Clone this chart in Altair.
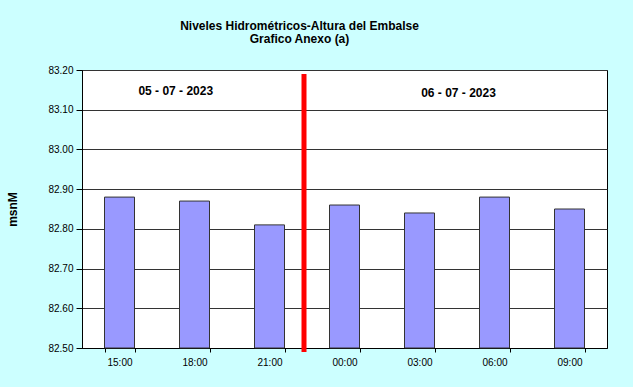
import altair as alt
import pandas as pd

times = ["15:00", "18:00", "21:00", "00:00", "03:00", "06:00", "09:00"]
levels = [82.88, 82.87, 82.81, 82.86, 82.84, 82.88, 82.85]
y_ticks = [82.5, 82.6, 82.7, 82.8, 82.9, 83.0, 83.1, 83.2]

date_labels = ["05 - 07 - 2023", "06 - 07 - 2023"]
date_x = [1.25, 5.02]
date_y = [83.148, 83.142]

divider_x = [2.96]
divider_top = [83.19]
divider_bottom = [82.49]

bars_df = pd.DataFrame({"time": times, "level": levels})
text_df = pd.DataFrame({"label": date_labels, "pos": date_x, "y": date_y})
rule_df = pd.DataFrame({"pos": divider_x, "top": divider_top, "bottom": divider_bottom})

FONT = "Liberation Sans"

yscale = alt.Scale(domain=[82.5, 83.2], zero=False, nice=False)
xlin = alt.Scale(domain=[0, 7], nice=False, zero=False)

yaxis = alt.Axis(values=y_ticks, format=".2f", title="msnM",
                 titleFont=FONT, titleFontSize=12, titleFontWeight="bold",
                 titleX=-70, titleY=139, titleAngle=-90,
                 titleAlign="center", titleBaseline="middle",
                 tickSize=6, tickColor="#000000", domainColor="#000000",
                 labelFont=FONT, labelFontSize=10, labelColor="#000000",
                 labelPadding=3, labelOverlap=False, labelFlush=False,
                 labelBound=False,
                 grid=True, gridColor="#333333", gridWidth=1)

bars = alt.Chart(bars_df).mark_bar(
    color="#9999ff", stroke="#333333", strokeWidth=1
).encode(
    x=alt.X("time:N", sort=times,
            scale=alt.Scale(paddingInner=0.6, paddingOuter=0.3),
            axis=alt.Axis(title=None, labelAngle=0, tickBand="extent", tickSize=4,
                          tickColor="#000000", domainColor="#000000", labelPadding=5,
                          labelFont=FONT, labelFontSize=10, labelColor="#000000")),
    y=alt.Y("level:Q", scale=yscale, axis=yaxis),
    y2=alt.datum(82.5),
)

texts = alt.Chart(text_df).mark_text(
    font=FONT, fontSize=12, fontWeight="bold", color="#000000"
).encode(
    x=alt.X("pos:Q", scale=xlin, axis=None),
    y=alt.Y("y:Q", scale=yscale, axis=yaxis),
    text="label:N",
)

rule = alt.Chart(rule_df).mark_rule(color="#ff0000", strokeWidth=5, clip=False).encode(
    x=alt.X("pos:Q", scale=xlin, axis=None),
    y=alt.Y("top:Q", scale=yscale, axis=yaxis),
    y2="bottom:Q",
)

chart = alt.layer(bars, texts, rule).resolve_scale(x="independent").properties(
    width=525,
    height=278,
    autosize=alt.AutoSizeParams(type="none"),
    padding={"left": 82, "top": 70, "right": 26, "bottom": 39},
    background="#ccffff",
    title=alt.TitleParams(
        text=["Niveles Hidrométricos-Altura del Embalse", "Grafico Anexo (a)"],
        font=FONT, fontSize=12, fontWeight="bold", color="#000000",
        lineHeight=13.5, offset=19, dx=-45, anchor="middle",
    ),
).configure_view(stroke="#000000", strokeWidth=1, fill="#ffffff")

chart.save("out.html", embed_options={"renderer": "svg", "actions": False})
